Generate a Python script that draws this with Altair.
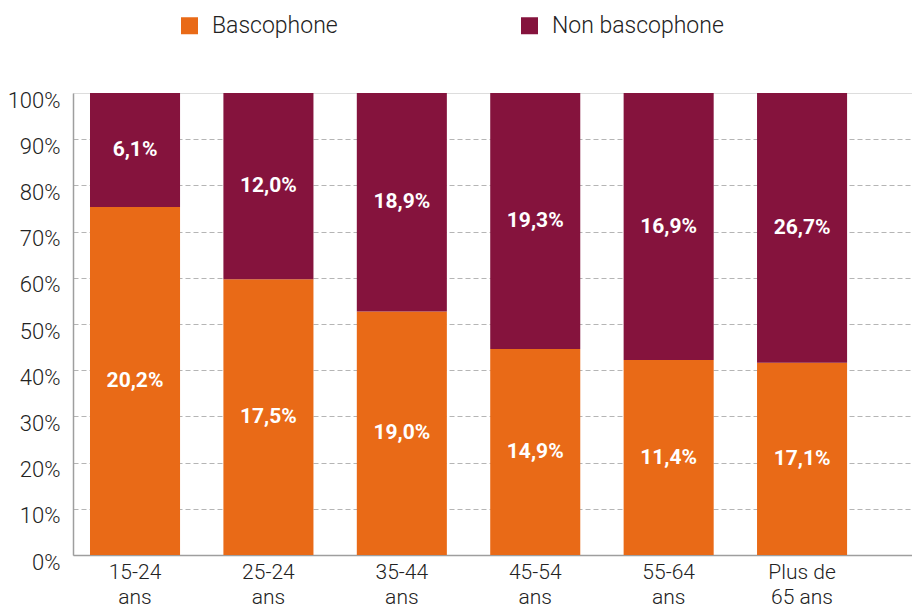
import altair as alt
import pandas as pd

categories = ["15-24\nans", "25-24\nans", "35-44\nans", "45-54\nans", "55-64\nans", "Plus de\n65 ans"]
series = ["Bascophone", "Non bascophone"]
# share of bar height (percent)
share_basco = [75.3, 59.7, 52.7, 44.6, 42.2, 41.6]
share_non = [24.7, 40.3, 47.3, 55.4, 57.8, 58.4]
# printed labels
label_basco = ["20,2%", "17,5%", "19,0%", "14,9%", "11,4%", "17,1%"]
label_non = ["6,1%", "12,0%", "18,9%", "19,3%", "16,9%", "26,7%"]

colors = ["#E96A17", "#85133D"]

rows = []
for i, c in enumerate(categories):
    b, n = share_basco[i], share_non[i]
    rows.append({"cat": c, "serie": series[0], "val": b, "ord": 0, "lab": label_basco[i], "mid": b / 2})
    rows.append({"cat": c, "serie": series[1], "val": n, "ord": 1, "lab": label_non[i], "mid": b + n / 2})
df = pd.DataFrame(rows)

FONT = "Roboto"

x = alt.X("cat:N", sort=categories, title=None,
          scale=alt.Scale(paddingInner=0.325, paddingOuter=0.307, align=0.2075),
          axis=alt.Axis(labelExpr="split(datum.label, '\\n')", labelAngle=0,
                        labelFontSize=21, labelFont=FONT, labelFontWeight=300,
                        labelColor="#222", labelLineHeight=25, labelPadding=6,
                        ticks=False, domainColor="#9e9e9e", domainWidth=1.5,
                        labelBaseline="top"))

bars = alt.Chart(df).mark_bar().encode(
    x=x,
    y=alt.Y("val:Q", stack="zero", title=None,
            scale=alt.Scale(domain=[0, 100], nice=False),
            axis=alt.Axis(values=list(range(0, 101, 10)),
                          labelExpr="datum.value + '%'",
                          labelFontSize=22, labelFont=FONT, labelFontWeight=300,
                          labelColor="#222", labelPadding=13, labelOffset=7,
                          ticks=False, domainColor="#9e9e9e", domainWidth=1.5,
                          grid=True, gridColor="#b5b5b5", gridDash=[5, 3], gridWidth=1.2,
                          gridOpacity={"condition": {"test": "datum.value == 0 || datum.value == 100", "value": 0}, "value": 1})),
    color=alt.Color("serie:N", sort=series,
                    scale=alt.Scale(domain=series, range=colors),
                    legend=alt.Legend(title=None, orient="none", direction="horizontal",
                                      legendX=105, legendY=-79, symbolType="square",
                                      symbolSize=289, symbolStrokeWidth=0,
                                      labelFont=FONT, labelFontWeight=300, labelFontSize=23,
                                      labelColor="#222", labelOffset=11, columnPadding=180,
                                      padding=0, labelLimit=300)),
    order=alt.Order("ord:Q", sort="ascending"),
)

texts = alt.Chart(df).mark_text(font=FONT, fontWeight="bold", fontSize=21, color="white",
                                baseline="middle", align="center").encode(
    x=alt.X("cat:N", sort=categories),
    y=alt.Y("mid:Q"),
    text="lab:N",
)

chart = alt.layer(bars, texts).properties(
    width=839, height=462,
    autosize=alt.AutoSizeParams(type="none"),
    padding={"left": 65, "top": 85, "right": 0, "bottom": 58},
).configure_view(stroke=None).configure(background="white")

chart.save("out.html", embed_options={"renderer": "svg", "actions": False})
